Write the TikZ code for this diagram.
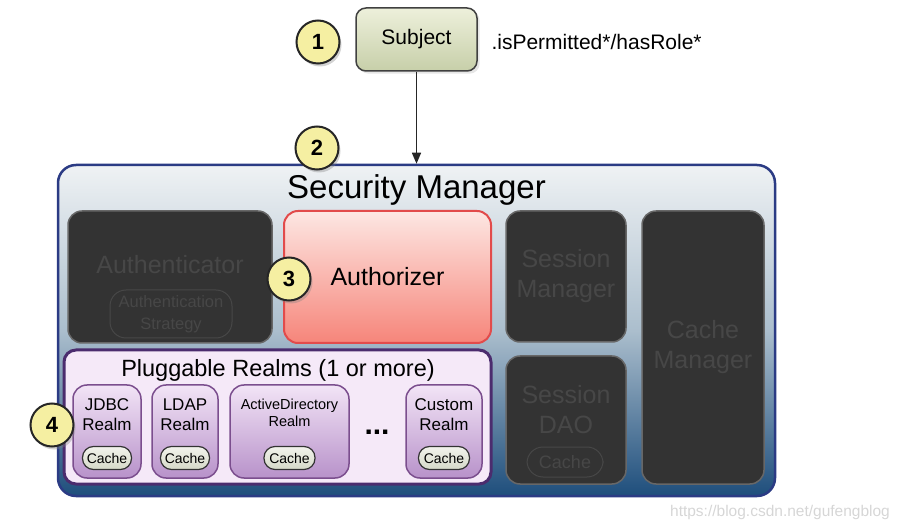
\documentclass[tikz,border=0pt]{standalone}
\usepackage{fontspec}
\setmainfont{Liberation Sans}
\usepackage{xcolor}
\usepackage{tikz}
\usetikzlibrary{shadows}
\usetikzlibrary{arrows.meta}
\newcommand{\fsz}[2]{\fontsize{#1}{#2}\selectfont}
\definecolor{numbfill}{HTML}{F5EFA2}
\definecolor{subjtop}{HTML}{EDF0DB}
\definecolor{subjbot}{HTML}{C7CFA9}
\definecolor{mgrtop}{HTML}{EFF2F4}
\definecolor{mgrmid}{HTML}{ABBECD}
\definecolor{mgrbot}{HTML}{1E4E7C}
\definecolor{mgrline}{HTML}{2B3B84}
\definecolor{darkfill}{HTML}{333333}
\definecolor{darkline}{HTML}{676767}
\definecolor{darktext}{HTML}{474747}
\definecolor{authtop}{HTML}{FDE7E3}
\definecolor{authbot}{HTML}{F6857A}
\definecolor{authline}{HTML}{E24B4B}
\definecolor{plugfill}{HTML}{F5E9F8}
\definecolor{plugline}{HTML}{4B2C6E}
\definecolor{realmtop}{HTML}{F2E4F6}
\definecolor{realmbot}{HTML}{B892CA}
\definecolor{realmline}{HTML}{7B4E8E}
\definecolor{cachtop}{HTML}{F2F3EC}
\definecolor{cachbot}{HTML}{D5D9C8}
\definecolor{wmark}{HTML}{D6D6D6}

\begin{document}
\begin{tikzpicture}
[x=1pt,y=-1pt,
numb/.style={circle,draw=black!85,line width=2pt,fill=numbfill,minimum size=43pt,inner sep=0pt,font=\fsz{22}{24}\bfseries,drop shadow={opacity=0.35,shadow xshift=2pt,shadow yshift=-3pt}},
subj/.style={rectangle,rounded corners=10pt,draw=black!75,line width=1.5pt,top color=subjtop,bottom color=subjbot,minimum width=121pt,minimum height=63pt,font=\fsz{21}{24},drop shadow={opacity=0.2}},
mgr/.style={rectangle,rounded corners=18pt,draw=mgrline,line width=2.5pt,top color=mgrtop,bottom color=mgrbot,middle color=mgrmid},
dark/.style={rectangle,rounded corners=14pt,draw=darkline,line width=1.5pt,fill=darkfill,text=darktext,align=center,font=\fsz{25}{30}},
auth/.style={rectangle,rounded corners=14pt,draw=authline,line width=2pt,top color=authtop,bottom color=authbot,font=\fsz{25}{30}},
plug/.style={rectangle,rounded corners=12pt,draw=plugline,line width=3pt,fill=plugfill},
realm/.style={rectangle,rounded corners=14pt,draw=realmline,line width=1.5pt,top color=realmtop,bottom color=realmbot,minimum height=93pt},
cach/.style={rectangle,rounded corners=11pt,draw=black!80,line width=1.2pt,top color=cachtop,bottom color=cachbot,minimum width=49pt,minimum height=23pt,inner sep=0pt,font=\fsz{14}{16}},
pill/.style={rectangle,rounded corners=16pt,draw=darktext,line width=1pt,text=darktext,inner sep=0pt,align=center},
arw/.style={-{Triangle[length=11pt,width=9pt]},line width=1.5pt,draw=black!85}]

\useasboundingbox (0,0) rectangle (900,529);

% the subject asking
\node at (416.5,39.5) [subj] (subj) {Subject};
\node at (488,42) [anchor=west,font=\fsz{21}{24}] (call) {.isPermitted*/hasRole*};

% security manager
\node at (416.5,330.5) [mgr,minimum width=717pt,minimum height=331pt] (mgr) {};
\node at (416.5,190) [font=\fsz{33}{36}] (mgrt) {Security Manager};
\draw [arw] (subj.south) to (mgr.north);

\node at (170,277)   [dark,minimum width=204pt,minimum height=132pt] (authn) {};
\node at (170,265)   [dark,draw=none,fill=none] (authnt) {Authenticator};
\node at (171,314)   [pill,minimum width=122pt,minimum height=48pt,font=\fsz{16.5}{22}] (strat) {Authentication\\Strategy};
\node at (387.5,277) [auth,minimum width=207pt,minimum height=132pt] (authz) {Authorizer};
\node at (566,276.5) [dark,minimum width=120pt,minimum height=131pt] (sesm) {Session\\Manager};
\node at (566,420)   [dark,minimum width=120pt,minimum height=128pt] (sdao) {};
\node at (566,410)   [dark,draw=none,fill=none] (sdaot) {Session\\DAO};
\node at (565,462)   [pill,minimum width=76pt,minimum height=30pt,font=\fsz{18}{20}] (sdaoc) {Cache};
\node at (703,347.5) [dark,minimum width=122pt,minimum height=273pt] (cmgr) {Cache\\Manager};

% realms
\node at (277.5,417) [plug,minimum width=427pt,minimum height=134pt] (plug) {};
\node at (278,370)   [font=\fsz{23.5}{26}] (plugt) {Pluggable Realms (1 or more)};
\node at (107,431.5) [realm,minimum width=68pt] (jdbc) {};
\node at (185,431.5) [realm,minimum width=66pt] (ldap) {};
\node at (289.5,431.5) [realm,minimum width=119pt] (adir) {};
\node at (444,431.5) [realm,minimum width=76pt] (cust) {};
\node at (107,415)   [align=center,font=\fsz{17}{20}] (jdbct) {JDBC\\Realm};
\node at (185,415)   [align=center,font=\fsz{17}{20}] (ldapt) {LDAP\\Realm};
\node at (289.5,413) [align=center,font=\fsz{14.5}{17}] (adirt) {ActiveDirectory\\Realm};
\node at (444,415)   [align=center,font=\fsz{17}{20}] (custt) {Custom\\Realm};
\node at (107,458)   [cach] (jdbcc) {Cache};
\node at (185,458)   [cach] (ldapc) {Cache};
\node at (289.5,458) [cach,minimum width=51pt] (adirc) {Cache};
\node at (444,458)   [cach,minimum width=51pt] (custc) {Cache};
\node at (377,432)   [font=\fsz{30}{32}\bfseries] (dots) {...};

% numbered steps
\node at (318,42)  [numb] (one)   {1};
\node at (317,148) [numb] (two)   {2};
\node at (289,279) [numb] (three) {3};
\node at (52,425)  [numb] (four)  {4};

\node at (780,512) [text=wmark,font=\fsz{15.5}{18}] (wm) {https://blog.csdn.net/gufengblog};
\end{tikzpicture}
\end{document}
